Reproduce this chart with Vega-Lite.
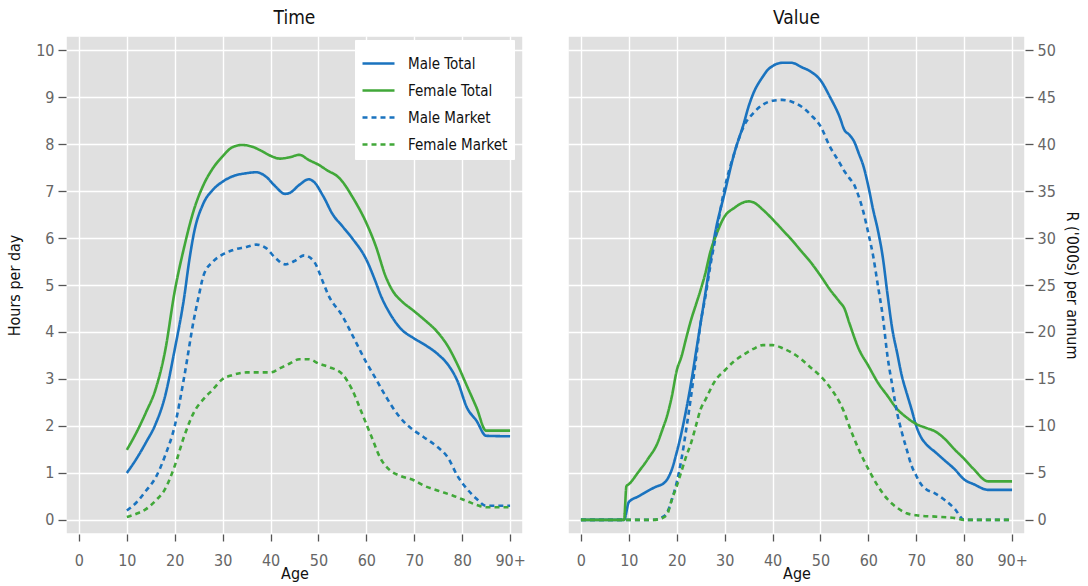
{
  "$schema": "https://vega.github.io/schema/vega-lite/v6.json",
  "background": "white",
  "padding": {"left": 5, "right": 5, "top": 8, "bottom": 5},
  "config": {
    "font": "DejaVu Sans Condensed, Liberation Sans Narrow, Roboto, sans-serif",
    "view": {"fill": "#e0e0e0", "stroke": "white", "strokeWidth": 1.5},
    "axis": {
      "grid": true, "gridColor": "white", "gridWidth": 1.4, "domain": false,
      "tickColor": "#555555", "tickSize": 8, "tickWidth": 1.3,
      "labelColor": "#666666", "labelFontSize": 16, "labelFont": "DejaVu Sans Condensed, Liberation Sans Narrow, Roboto, sans-serif",
      "titleFontSize": 16, "titleFontWeight": "normal", "titleColor": "#111111", "titleFont": "DejaVu Sans Condensed, Liberation Sans Narrow, Roboto, sans-serif"
    },
    "title": {"fontSize": 19, "fontWeight": "normal", "color": "#111111", "offset": 8, "font": "DejaVu Sans Condensed, Liberation Sans Narrow, Roboto, sans-serif"}
  },
  "datasets": {
    "time": [
      {"s":"Male Total","a":10,"v":1.0},{"s":"Male Total","a":12,"v":1.3},{"s":"Male Total","a":14,"v":1.65},{"s":"Male Total","a":16,"v":2.04},{"s":"Male Total","a":18,"v":2.64},{"s":"Male Total","a":20,"v":3.63},{"s":"Male Total","a":22,"v":4.76},{"s":"Male Total","a":23,"v":5.5},{"s":"Male Total","a":24,"v":6.1},{"s":"Male Total","a":26,"v":6.74},{"s":"Male Total","a":28,"v":7.03},{"s":"Male Total","a":30,"v":7.2},{"s":"Male Total","a":32,"v":7.31},{"s":"Male Total","a":35,"v":7.38},{"s":"Male Total","a":37,"v":7.4},{"s":"Male Total","a":39,"v":7.31},{"s":"Male Total","a":41,"v":7.1},{"s":"Male Total","a":43,"v":6.94},{"s":"Male Total","a":44,"v":6.96},{"s":"Male Total","a":46,"v":7.13},{"s":"Male Total","a":48,"v":7.25},{"s":"Male Total","a":49,"v":7.2},{"s":"Male Total","a":51,"v":6.89},{"s":"Male Total","a":53,"v":6.5},{"s":"Male Total","a":55,"v":6.25},{"s":"Male Total","a":57,"v":6.0},{"s":"Male Total","a":60,"v":5.54},{"s":"Male Total","a":62,"v":5.05},{"s":"Male Total","a":63,"v":4.78},{"s":"Male Total","a":65,"v":4.38},{"s":"Male Total","a":67,"v":4.09},{"s":"Male Total","a":70,"v":3.86},{"s":"Male Total","a":72,"v":3.74},{"s":"Male Total","a":75,"v":3.52},{"s":"Male Total","a":77,"v":3.31},{"s":"Male Total","a":79,"v":2.96},{"s":"Male Total","a":81,"v":2.39},{"s":"Male Total","a":83,"v":2.11},{"s":"Male Total","a":85,"v":1.79},{"s":"Male Total","a":90,"v":1.78},
      {"s":"Female Total","a":10,"v":1.49},{"s":"Female Total","a":12,"v":1.86},{"s":"Female Total","a":14,"v":2.29},{"s":"Female Total","a":16,"v":2.78},{"s":"Female Total","a":18,"v":3.6},{"s":"Female Total","a":20,"v":4.87},{"s":"Female Total","a":22,"v":5.82},{"s":"Female Total","a":24,"v":6.6},{"s":"Female Total","a":26,"v":7.13},{"s":"Female Total","a":28,"v":7.49},{"s":"Female Total","a":30,"v":7.74},{"s":"Female Total","a":32,"v":7.93},{"s":"Female Total","a":34,"v":7.98},{"s":"Female Total","a":36,"v":7.95},{"s":"Female Total","a":38,"v":7.86},{"s":"Female Total","a":40,"v":7.75},{"s":"Female Total","a":42,"v":7.69},{"s":"Female Total","a":44,"v":7.72},{"s":"Female Total","a":46,"v":7.77},{"s":"Female Total","a":48,"v":7.66},{"s":"Female Total","a":50,"v":7.56},{"s":"Female Total","a":52,"v":7.43},{"s":"Female Total","a":54,"v":7.31},{"s":"Female Total","a":55,"v":7.2},{"s":"Female Total","a":57,"v":6.89},{"s":"Female Total","a":60,"v":6.32},{"s":"Female Total","a":62,"v":5.82},{"s":"Female Total","a":64,"v":5.19},{"s":"Female Total","a":66,"v":4.8},{"s":"Female Total","a":67,"v":4.69},{"s":"Female Total","a":70,"v":4.44},{"s":"Female Total","a":72,"v":4.27},{"s":"Female Total","a":75,"v":3.98},{"s":"Female Total","a":77,"v":3.7},{"s":"Female Total","a":79,"v":3.31},{"s":"Female Total","a":81,"v":2.85},{"s":"Female Total","a":83,"v":2.39},{"s":"Female Total","a":85,"v":1.9},{"s":"Female Total","a":90,"v":1.9},
      {"s":"Male Market","a":10,"v":0.2},{"s":"Male Market","a":12,"v":0.37},{"s":"Male Market","a":14,"v":0.62},{"s":"Male Market","a":16,"v":0.9},{"s":"Male Market","a":18,"v":1.37},{"s":"Male Market","a":20,"v":2.0},{"s":"Male Market","a":22,"v":3.06},{"s":"Male Market","a":24,"v":4.27},{"s":"Male Market","a":25,"v":4.76},{"s":"Male Market","a":26,"v":5.2},{"s":"Male Market","a":28,"v":5.5},{"s":"Male Market","a":30,"v":5.65},{"s":"Male Market","a":32,"v":5.74},{"s":"Male Market","a":35,"v":5.81},{"s":"Male Market","a":37,"v":5.86},{"s":"Male Market","a":39,"v":5.79},{"s":"Male Market","a":41,"v":5.58},{"s":"Male Market","a":43,"v":5.44},{"s":"Male Market","a":45,"v":5.51},{"s":"Male Market","a":47,"v":5.63},{"s":"Male Market","a":49,"v":5.51},{"s":"Male Market","a":51,"v":5.05},{"s":"Male Market","a":52,"v":4.8},{"s":"Male Market","a":55,"v":4.34},{"s":"Male Market","a":57,"v":3.95},{"s":"Male Market","a":60,"v":3.35},{"s":"Male Market","a":62,"v":3.0},{"s":"Male Market","a":64,"v":2.64},{"s":"Male Market","a":66,"v":2.32},{"s":"Male Market","a":68,"v":2.07},{"s":"Male Market","a":70,"v":1.9},{"s":"Male Market","a":72,"v":1.76},{"s":"Male Market","a":75,"v":1.54},{"s":"Male Market","a":77,"v":1.33},{"s":"Male Market","a":79,"v":0.94},{"s":"Male Market","a":81,"v":0.66},{"s":"Male Market","a":83,"v":0.45},{"s":"Male Market","a":85,"v":0.3},{"s":"Male Market","a":90,"v":0.3},
      {"s":"Female Market","a":10,"v":0.06},{"s":"Female Market","a":12,"v":0.13},{"s":"Female Market","a":14,"v":0.23},{"s":"Female Market","a":16,"v":0.41},{"s":"Female Market","a":18,"v":0.66},{"s":"Female Market","a":20,"v":1.15},{"s":"Female Market","a":22,"v":1.79},{"s":"Female Market","a":24,"v":2.29},{"s":"Female Market","a":26,"v":2.57},{"s":"Female Market","a":28,"v":2.78},{"s":"Female Market","a":30,"v":3.0},{"s":"Female Market","a":32,"v":3.08},{"s":"Female Market","a":35,"v":3.14},{"s":"Female Market","a":38,"v":3.14},{"s":"Female Market","a":40,"v":3.14},{"s":"Female Market","a":42,"v":3.23},{"s":"Female Market","a":44,"v":3.33},{"s":"Female Market","a":46,"v":3.42},{"s":"Female Market","a":48,"v":3.42},{"s":"Female Market","a":50,"v":3.33},{"s":"Female Market","a":52,"v":3.26},{"s":"Female Market","a":55,"v":3.1},{"s":"Female Market","a":57,"v":2.78},{"s":"Female Market","a":59,"v":2.29},{"s":"Female Market","a":61,"v":1.79},{"s":"Female Market","a":63,"v":1.3},{"s":"Female Market","a":65,"v":1.05},{"s":"Female Market","a":67,"v":0.94},{"s":"Female Market","a":70,"v":0.84},{"s":"Female Market","a":72,"v":0.73},{"s":"Female Market","a":75,"v":0.62},{"s":"Female Market","a":78,"v":0.52},{"s":"Female Market","a":81,"v":0.4},{"s":"Female Market","a":83,"v":0.32},{"s":"Female Market","a":85,"v":0.27},{"s":"Female Market","a":90,"v":0.27}
    ],
    "value": [
      {"s":"Male Total","a":0,"v":0},{"s":"Male Total","a":3,"v":0},{"s":"Male Total","a":6,"v":0},{"s":"Male Total","a":9,"v":0},{"s":"Male Total","a":10,"v":1.9},{"s":"Male Total","a":12,"v":2.5},{"s":"Male Total","a":14,"v":3.1},{"s":"Male Total","a":16,"v":3.6},{"s":"Male Total","a":17,"v":3.8},{"s":"Male Total","a":18,"v":4.3},{"s":"Male Total","a":19,"v":5.4},{"s":"Male Total","a":20,"v":7.2},{"s":"Male Total","a":21,"v":9.3},{"s":"Male Total","a":22,"v":11.8},{"s":"Male Total","a":23,"v":14.6},{"s":"Male Total","a":24,"v":17.8},{"s":"Male Total","a":25,"v":21.0},{"s":"Male Total","a":26,"v":24.2},{"s":"Male Total","a":27,"v":27.5},{"s":"Male Total","a":28,"v":30.5},{"s":"Male Total","a":30,"v":34.8},{"s":"Male Total","a":32,"v":39.0},{"s":"Male Total","a":34,"v":42.2},{"s":"Male Total","a":35,"v":44.0},{"s":"Male Total","a":36,"v":45.4},{"s":"Male Total","a":38,"v":47.2},{"s":"Male Total","a":39,"v":47.9},{"s":"Male Total","a":40,"v":48.3},{"s":"Male Total","a":42,"v":48.65},{"s":"Male Total","a":44,"v":48.65},{"s":"Male Total","a":46,"v":48.2},{"s":"Male Total","a":48,"v":47.7},{"s":"Male Total","a":50,"v":46.8},{"s":"Male Total","a":52,"v":45.0},{"s":"Male Total","a":54,"v":42.9},{"s":"Male Total","a":55,"v":41.5},{"s":"Male Total","a":56,"v":41.0},{"s":"Male Total","a":57,"v":40.3},{"s":"Male Total","a":58,"v":39.0},{"s":"Male Total","a":59,"v":37.6},{"s":"Male Total","a":60,"v":35.5},{"s":"Male Total","a":61,"v":33.0},{"s":"Male Total","a":62,"v":30.8},{"s":"Male Total","a":63,"v":28.0},{"s":"Male Total","a":64,"v":24.0},{"s":"Male Total","a":65,"v":20.3},{"s":"Male Total","a":66,"v":17.8},{"s":"Male Total","a":67,"v":15.3},{"s":"Male Total","a":68,"v":13.5},{"s":"Male Total","a":69,"v":11.8},{"s":"Male Total","a":70,"v":10.0},{"s":"Male Total","a":71,"v":8.8},{"s":"Male Total","a":72,"v":8.1},{"s":"Male Total","a":74,"v":7.2},{"s":"Male Total","a":76,"v":6.3},{"s":"Male Total","a":78,"v":5.4},{"s":"Male Total","a":80,"v":4.3},{"s":"Male Total","a":82,"v":3.8},{"s":"Male Total","a":85,"v":3.2},{"s":"Male Total","a":90,"v":3.2},
      {"s":"Female Total","a":0,"v":0},{"s":"Female Total","a":3,"v":0},{"s":"Female Total","a":6,"v":0},{"s":"Female Total","a":9,"v":0},{"s":"Female Total","a":9.5,"v":3.6},{"s":"Female Total","a":10,"v":3.8},{"s":"Female Total","a":12,"v":5.1},{"s":"Female Total","a":14,"v":6.5},{"s":"Female Total","a":16,"v":8.2},{"s":"Female Total","a":17,"v":9.6},{"s":"Female Total","a":18,"v":11.1},{"s":"Female Total","a":19,"v":13.2},{"s":"Female Total","a":20,"v":15.9},{"s":"Female Total","a":21,"v":17.4},{"s":"Female Total","a":22,"v":19.4},{"s":"Female Total","a":23,"v":21.3},{"s":"Female Total","a":24,"v":22.9},{"s":"Female Total","a":25,"v":24.5},{"s":"Female Total","a":26,"v":26.3},{"s":"Female Total","a":27,"v":28.5},{"s":"Female Total","a":28,"v":30.0},{"s":"Female Total","a":30,"v":32.3},{"s":"Female Total","a":32,"v":33.2},{"s":"Female Total","a":34,"v":33.8},{"s":"Female Total","a":35,"v":33.9},{"s":"Female Total","a":36,"v":33.8},{"s":"Female Total","a":38,"v":33.0},{"s":"Female Total","a":40,"v":32.0},{"s":"Female Total","a":42,"v":30.9},{"s":"Female Total","a":44,"v":29.8},{"s":"Female Total","a":46,"v":28.6},{"s":"Female Total","a":48,"v":27.4},{"s":"Female Total","a":50,"v":26.0},{"s":"Female Total","a":52,"v":24.5},{"s":"Female Total","a":54,"v":23.2},{"s":"Female Total","a":55,"v":22.5},{"s":"Female Total","a":56,"v":21.0},{"s":"Female Total","a":58,"v":18.2},{"s":"Female Total","a":60,"v":16.4},{"s":"Female Total","a":62,"v":14.6},{"s":"Female Total","a":64,"v":13.2},{"s":"Female Total","a":66,"v":11.8},{"s":"Female Total","a":68,"v":10.9},{"s":"Female Total","a":70,"v":10.2},{"s":"Female Total","a":72,"v":9.8},{"s":"Female Total","a":74,"v":9.4},{"s":"Female Total","a":76,"v":8.6},{"s":"Female Total","a":78,"v":7.5},{"s":"Female Total","a":80,"v":6.5},{"s":"Female Total","a":82,"v":5.4},{"s":"Female Total","a":85,"v":4.1},{"s":"Female Total","a":90,"v":4.1},
      {"s":"Male Market","a":0,"v":0},{"s":"Male Market","a":5,"v":0},{"s":"Male Market","a":9,"v":0},{"s":"Male Market","a":12,"v":0},{"s":"Male Market","a":15,"v":0},{"s":"Male Market","a":17,"v":0.3},{"s":"Male Market","a":18,"v":0.8},{"s":"Male Market","a":19,"v":2.2},{"s":"Male Market","a":20,"v":4.0},{"s":"Male Market","a":21,"v":6.5},{"s":"Male Market","a":22,"v":9.7},{"s":"Male Market","a":23,"v":13.2},{"s":"Male Market","a":24,"v":17.1},{"s":"Male Market","a":25,"v":21.0},{"s":"Male Market","a":26,"v":23.8},{"s":"Male Market","a":27,"v":27.0},{"s":"Male Market","a":28,"v":29.8},{"s":"Male Market","a":30,"v":35.3},{"s":"Male Market","a":32,"v":39.0},{"s":"Male Market","a":34,"v":41.9},{"s":"Male Market","a":36,"v":43.3},{"s":"Male Market","a":38,"v":44.2},{"s":"Male Market","a":40,"v":44.6},{"s":"Male Market","a":42,"v":44.7},{"s":"Male Market","a":44,"v":44.5},{"s":"Male Market","a":46,"v":44.0},{"s":"Male Market","a":48,"v":43.1},{"s":"Male Market","a":50,"v":41.9},{"s":"Male Market","a":52,"v":39.7},{"s":"Male Market","a":54,"v":38.0},{"s":"Male Market","a":55,"v":37.1},{"s":"Male Market","a":56,"v":36.4},{"s":"Male Market","a":57,"v":35.7},{"s":"Male Market","a":58,"v":34.4},{"s":"Male Market","a":59,"v":32.7},{"s":"Male Market","a":60,"v":30.5},{"s":"Male Market","a":61,"v":28.1},{"s":"Male Market","a":62,"v":24.9},{"s":"Male Market","a":63,"v":21.7},{"s":"Male Market","a":64,"v":17.4},{"s":"Male Market","a":65,"v":14.3},{"s":"Male Market","a":66,"v":11.4},{"s":"Male Market","a":67,"v":9.3},{"s":"Male Market","a":68,"v":7.5},{"s":"Male Market","a":69,"v":5.8},{"s":"Male Market","a":70,"v":4.7},{"s":"Male Market","a":71,"v":3.8},{"s":"Male Market","a":72,"v":3.3},{"s":"Male Market","a":74,"v":2.8},{"s":"Male Market","a":76,"v":2.1},{"s":"Male Market","a":78,"v":1.2},{"s":"Male Market","a":80,"v":0},{"s":"Male Market","a":85,"v":0},{"s":"Male Market","a":90,"v":0},
      {"s":"Female Market","a":0,"v":0},{"s":"Female Market","a":5,"v":0},{"s":"Female Market","a":9,"v":0},{"s":"Female Market","a":12,"v":0},{"s":"Female Market","a":15,"v":0},{"s":"Female Market","a":17,"v":0.2},{"s":"Female Market","a":18,"v":0.6},{"s":"Female Market","a":19,"v":2.2},{"s":"Female Market","a":20,"v":3.6},{"s":"Female Market","a":21,"v":5.2},{"s":"Female Market","a":22,"v":6.8},{"s":"Female Market","a":23,"v":8.2},{"s":"Female Market","a":24,"v":10.0},{"s":"Female Market","a":25,"v":11.8},{"s":"Female Market","a":26,"v":12.8},{"s":"Female Market","a":28,"v":14.8},{"s":"Female Market","a":30,"v":15.9},{"s":"Female Market","a":32,"v":16.9},{"s":"Female Market","a":34,"v":17.6},{"s":"Female Market","a":36,"v":18.2},{"s":"Female Market","a":38,"v":18.6},{"s":"Female Market","a":40,"v":18.6},{"s":"Female Market","a":42,"v":18.3},{"s":"Female Market","a":44,"v":17.8},{"s":"Female Market","a":46,"v":17.1},{"s":"Female Market","a":48,"v":16.2},{"s":"Female Market","a":50,"v":15.3},{"s":"Female Market","a":52,"v":14.1},{"s":"Female Market","a":54,"v":12.5},{"s":"Female Market","a":55,"v":11.4},{"s":"Female Market","a":56,"v":10.0},{"s":"Female Market","a":58,"v":7.5},{"s":"Female Market","a":60,"v":5.4},{"s":"Female Market","a":62,"v":3.6},{"s":"Female Market","a":64,"v":2.2},{"s":"Female Market","a":66,"v":1.3},{"s":"Female Market","a":68,"v":0.7},{"s":"Female Market","a":70,"v":0.5},{"s":"Female Market","a":74,"v":0.35},{"s":"Female Market","a":78,"v":0.2},{"s":"Female Market","a":80,"v":0},{"s":"Female Market","a":85,"v":0},{"s":"Female Market","a":90,"v":0}
    ]
  },
  "spacing": 40,
  "resolve": {
    "scale": {"color": "independent", "strokeDash": "independent"},
    "legend": {"color": "independent", "strokeDash": "independent"}
  },
  "hconcat": [
    {
      "width": 457,
      "height": 498,
      "title": "Time",
      "data": {"name": "time"},
      "mark": {"type": "line", "strokeWidth": 2.6, "interpolate": "monotone"},
      "encoding": {
        "x": {"field": "a", "type": "quantitative",
          "scale": {"domain": [-2.7, 92.7], "nice": false, "zero": false},
          "axis": {"values": [0,10,20,30,40,50,60,70,80,90], "labelExpr": "datum.value == 90 ? '90+' : datum.label", "title": "Age", "tickSize": 7, "labelPadding": 11, "titlePadding": -3}},
        "y": {"field": "v", "type": "quantitative",
          "scale": {"domain": [-0.3, 10.3], "nice": false, "zero": false},
          "axis": {"values": [0,1,2,3,4,5,6,7,8,9,10], "title": "Hours per day", "labelPadding": 4, "titlePadding": 13}},
        "color": {"field": "s", "type": "nominal",
          "scale": {"domain": ["Male Total","Female Total","Male Market","Female Market"], "range": ["#1a73bf","#41a839","#1a73bf","#41a839"]},
          "legend": {"title": null, "orient": "none", "legendX": 289, "legendY": 4, "fillColor": "white", "strokeColor": "white", "padding": 6, "symbolType": "stroke", "symbolSize": 1024, "symbolStrokeWidth": 2.7, "labelFontSize": 15, "labelColor": "#111111", "labelOffset": 12, "rowPadding": 1, "labelFont": "DejaVu Sans Condensed, Liberation Sans Narrow, Roboto, sans-serif"}},
        "strokeDash": {"field": "s", "type": "nominal",
          "scale": {"domain": ["Male Total","Female Total","Male Market","Female Market"], "range": [[1,0],[1,0],[5,4],[5,4]]},
          "legend": {"title": null, "orient": "none", "legendX": 289, "legendY": 4, "fillColor": "white", "strokeColor": "white", "padding": 6, "symbolType": "stroke", "symbolSize": 1024, "symbolStrokeWidth": 2.7, "labelFontSize": 15, "labelColor": "#111111", "labelOffset": 12, "rowPadding": 1, "labelFont": "DejaVu Sans Condensed, Liberation Sans Narrow, Roboto, sans-serif"}}
      }
    },
    {
      "width": 457,
      "height": 498,
      "title": "Value",
      "data": {"name": "value"},
      "mark": {"type": "line", "strokeWidth": 2.6, "interpolate": "monotone"},
      "encoding": {
        "x": {"field": "a", "type": "quantitative",
          "scale": {"domain": [-2.7, 92.7], "nice": false, "zero": false},
          "axis": {"values": [0,10,20,30,40,50,60,70,80,90], "labelExpr": "datum.value == 90 ? '90+' : datum.label", "title": "Age", "tickSize": 7, "labelPadding": 11, "titlePadding": -3}},
        "y": {"field": "v", "type": "quantitative",
          "scale": {"domain": [-1.5, 51.5], "nice": false, "zero": false},
          "axis": {"orient": "right", "values": [0,5,10,15,20,25,30,35,40,45,50], "title": "R ('000s) per annum", "labelPadding": 4, "titlePadding": 8}},
        "color": {"field": "s", "type": "nominal",
          "scale": {"domain": ["Male Total","Female Total","Male Market","Female Market"], "range": ["#1a73bf","#41a839","#1a73bf","#41a839"]},
          "legend": null},
        "strokeDash": {"field": "s", "type": "nominal",
          "scale": {"domain": ["Male Total","Female Total","Male Market","Female Market"], "range": [[1,0],[1,0],[5,4],[5,4]]},
          "legend": null}
      }
    }
  ]
}
